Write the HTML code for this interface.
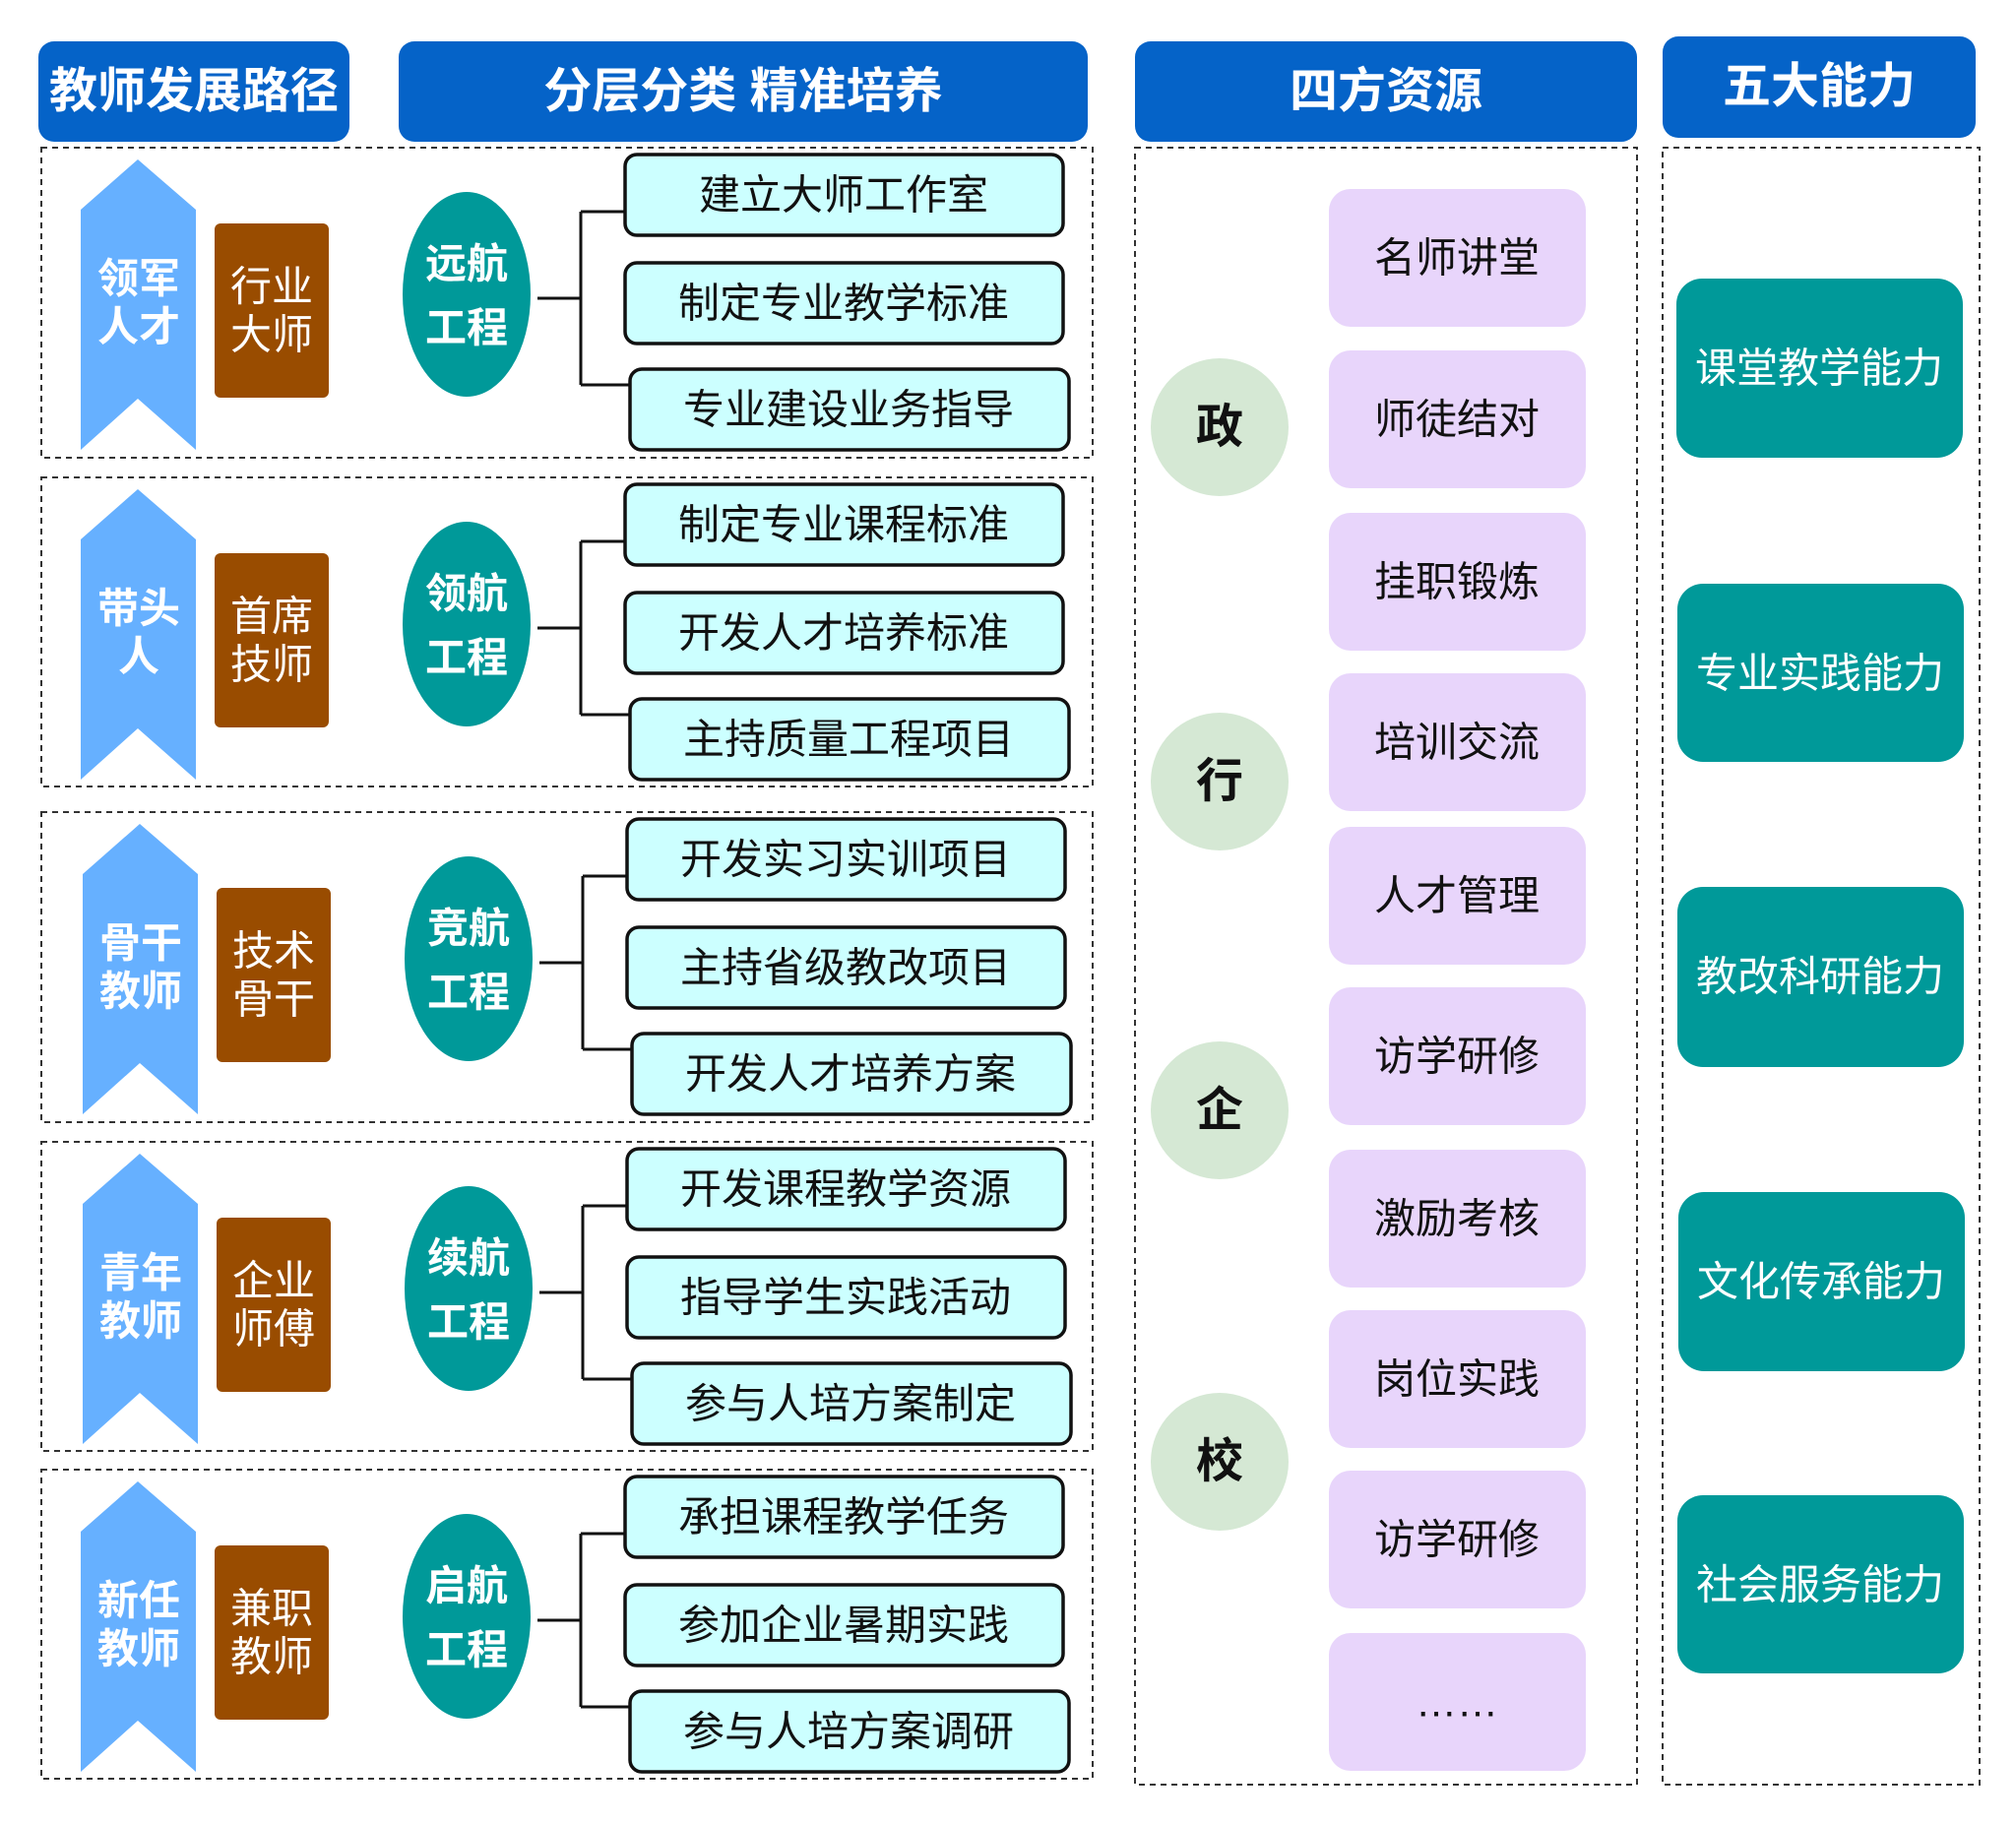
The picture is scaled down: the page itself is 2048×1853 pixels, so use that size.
<!DOCTYPE html>
<html><head><meta charset="utf-8"><style>
html,body{margin:0;padding:0;background:#fff;}
svg text{font-family:"Liberation Sans","Noto Sans CJK SC",sans-serif;}
</style></head><body>
<svg width="2048" height="1848" viewBox="0 0 2048 1848" xmlns="http://www.w3.org/2000/svg">
<defs>
<g id="row">
</g>
</defs>
<!-- headers -->
<rect x="39" y="42" width="316" height="102" rx="16" fill="#0563c8"/>
<text x="197" y="93" text-anchor="middle" dominant-baseline="central" font-size="49" font-weight="bold" fill="#fff">教师发展路径</text>
<rect x="405" y="42" width="700" height="102" rx="16" fill="#0563c8"/>
<text x="755" y="93" text-anchor="middle" dominant-baseline="central" font-size="49" font-weight="bold" fill="#fff">分层分类 精准培养</text>
<rect x="1153" y="42" width="510" height="102" rx="16" fill="#0563c8"/>
<text x="1408" y="93" text-anchor="middle" dominant-baseline="central" font-size="49" font-weight="bold" fill="#fff">四方资源</text>
<rect x="1689" y="37" width="318" height="103" rx="16" fill="#0563c8"/>
<text x="1848" y="88" text-anchor="middle" dominant-baseline="central" font-size="49" font-weight="bold" fill="#fff">五大能力</text>

<g fill="none" stroke="#333" stroke-width="2" stroke-dasharray="6,5">
<rect x="42" y="150" width="1068" height="315"/>
<rect x="42" y="485" width="1068" height="314"/>
<rect x="42" y="825" width="1068" height="315"/>
<rect x="42" y="1160" width="1068" height="314"/>
<rect x="42" y="1493" width="1068" height="314"/>
<rect x="1153" y="150" width="510" height="1663"/>
<rect x="1689" y="150" width="322" height="1663"/>
</g>

<!-- rows -->
<g id="rows"></g>

<!-- purple resource boxes -->
<g fill="#e8d5fb">
<rect x="1350" y="192" width="261" height="140" rx="22"/>
<rect x="1350" y="356" width="261" height="140" rx="22"/>
<rect x="1350" y="521" width="261" height="140" rx="22"/>
<rect x="1350" y="684" width="261" height="140" rx="22"/>
<rect x="1350" y="840" width="261" height="140" rx="22"/>
<rect x="1350" y="1003" width="261" height="140" rx="22"/>
<rect x="1350" y="1168" width="261" height="140" rx="22"/>
<rect x="1350" y="1331" width="261" height="140" rx="22"/>
<rect x="1350" y="1494" width="261" height="140" rx="22"/>
<rect x="1350" y="1659" width="261" height="140" rx="22"/>
</g>
<g font-size="42" fill="#111" text-anchor="middle" dominant-baseline="central">
<text x="1480" y="262">名师讲堂</text>
<text x="1480" y="426">师徒结对</text>
<text x="1480" y="591">挂职锻炼</text>
<text x="1480" y="754">培训交流</text>
<text x="1480" y="910">人才管理</text>
<text x="1480" y="1073">访学研修</text>
<text x="1480" y="1238">激励考核</text>
<text x="1480" y="1401">岗位实践</text>
<text x="1480" y="1564">访学研修</text>
<text x="1480" y="1729">……</text>
</g>

<!-- circles -->
<g fill="#d5e8d4">
<circle cx="1239" cy="434" r="70"/>
<circle cx="1239" cy="794" r="70"/>
<circle cx="1239" cy="1128" r="70"/>
<circle cx="1239" cy="1485" r="70"/>
</g>
<g font-size="48" font-weight="bold" fill="#111" text-anchor="middle" dominant-baseline="central">
<text x="1239" y="434">政</text>
<text x="1239" y="794">行</text>
<text x="1239" y="1128">企</text>
<text x="1239" y="1485">校</text>
</g>

<!-- teal abilities -->
<g fill="#009999">
<rect x="1703" y="283" width="291" height="182" rx="26"/>
<rect x="1704" y="593" width="291" height="181" rx="26"/>
<rect x="1704" y="901" width="291" height="183" rx="26"/>
<rect x="1705" y="1211" width="291" height="182" rx="26"/>
<rect x="1704" y="1519" width="291" height="181" rx="26"/>
</g>
<g font-size="42" fill="#fff" text-anchor="middle" dominant-baseline="central">
<text x="1848" y="374">课堂教学能力</text>
<text x="1849" y="684">专业实践能力</text>
<text x="1849" y="992">教改科研能力</text>
<text x="1850" y="1302">文化传承能力</text>
<text x="1849" y="1610">社会服务能力</text>
</g>

<!-- ROW 1 t=150 -->
<g transform="translate(0,150)">
<polygon points="140,12 199,63 199,307 140,255 82,307 82,63" fill="#66b0ff"/>
<text x="141" y="133" text-anchor="middle" dominant-baseline="central" font-size="42" font-weight="bold" fill="#fff">领军</text>
<text x="141" y="182" text-anchor="middle" dominant-baseline="central" font-size="42" font-weight="bold" fill="#fff">人才</text>
<rect x="218" y="77" width="116" height="177" rx="6" fill="#994c00"/>
<text x="276" y="141" text-anchor="middle" dominant-baseline="central" font-size="42" fill="#fff">行业</text>
<text x="276" y="190" text-anchor="middle" dominant-baseline="central" font-size="42" fill="#fff">大师</text>
<ellipse cx="474" cy="149" rx="65" ry="104" fill="#009999"/>
<text x="474" y="118" text-anchor="middle" dominant-baseline="central" font-size="42" font-weight="bold" fill="#fff">远航</text>
<text x="474" y="183" text-anchor="middle" dominant-baseline="central" font-size="42" font-weight="bold" fill="#fff">工程</text>
<path d="M546,153 H590 M590,65 V241 M590,65 H636 M590,241 H640" stroke="#111" stroke-width="3" fill="none"/>
<g fill="#ccffff" stroke="#111" stroke-width="3.5">
<rect x="635" y="7" width="445" height="82" rx="12"/>
<rect x="635" y="117" width="445" height="82" rx="12"/>
<rect x="640" y="225" width="446" height="82" rx="12"/>
</g>
<g font-size="42" fill="#111" text-anchor="middle" dominant-baseline="central">
<text x="857" y="48">建立大师工作室</text>
<text x="857" y="158">制定专业教学标准</text>
<text x="862" y="266">专业建设业务指导</text>
</g>
</g>

<!-- ROW 2 t=485 -->
<g transform="translate(0,485)">
<polygon points="140,12 199,63 199,307 140,255 82,307 82,63" fill="#66b0ff"/>
<text x="141" y="133" text-anchor="middle" dominant-baseline="central" font-size="42" font-weight="bold" fill="#fff">带头</text>
<text x="141" y="182" text-anchor="middle" dominant-baseline="central" font-size="42" font-weight="bold" fill="#fff">人</text>
<rect x="218" y="77" width="116" height="177" rx="6" fill="#994c00"/>
<text x="276" y="141" text-anchor="middle" dominant-baseline="central" font-size="42" fill="#fff">首席</text>
<text x="276" y="190" text-anchor="middle" dominant-baseline="central" font-size="42" fill="#fff">技师</text>
<ellipse cx="474" cy="149" rx="65" ry="104" fill="#009999"/>
<text x="474" y="118" text-anchor="middle" dominant-baseline="central" font-size="42" font-weight="bold" fill="#fff">领航</text>
<text x="474" y="183" text-anchor="middle" dominant-baseline="central" font-size="42" font-weight="bold" fill="#fff">工程</text>
<path d="M546,153 H590 M590,65 V241 M590,65 H636 M590,241 H640" stroke="#111" stroke-width="3" fill="none"/>
<g fill="#ccffff" stroke="#111" stroke-width="3.5">
<rect x="635" y="7" width="445" height="82" rx="12"/>
<rect x="635" y="117" width="445" height="82" rx="12"/>
<rect x="640" y="225" width="446" height="82" rx="12"/>
</g>
<g font-size="42" fill="#111" text-anchor="middle" dominant-baseline="central">
<text x="857" y="48">制定专业课程标准</text>
<text x="857" y="158">开发人才培养标准</text>
<text x="862" y="266">主持质量工程项目</text>
</g>
</g>

<!-- ROW 3 t=825 -->
<g transform="translate(2,825)">
<polygon points="140,12 199,63 199,307 140,255 82,307 82,63" fill="#66b0ff"/>
<text x="141" y="133" text-anchor="middle" dominant-baseline="central" font-size="42" font-weight="bold" fill="#fff">骨干</text>
<text x="141" y="182" text-anchor="middle" dominant-baseline="central" font-size="42" font-weight="bold" fill="#fff">教师</text>
<rect x="218" y="77" width="116" height="177" rx="6" fill="#994c00"/>
<text x="276" y="141" text-anchor="middle" dominant-baseline="central" font-size="42" fill="#fff">技术</text>
<text x="276" y="190" text-anchor="middle" dominant-baseline="central" font-size="42" fill="#fff">骨干</text>
<ellipse cx="474" cy="149" rx="65" ry="104" fill="#009999"/>
<text x="474" y="118" text-anchor="middle" dominant-baseline="central" font-size="42" font-weight="bold" fill="#fff">竞航</text>
<text x="474" y="183" text-anchor="middle" dominant-baseline="central" font-size="42" font-weight="bold" fill="#fff">工程</text>
<path d="M546,153 H590 M590,65 V241 M590,65 H636 M590,241 H640" stroke="#111" stroke-width="3" fill="none"/>
<g fill="#ccffff" stroke="#111" stroke-width="3.5">
<rect x="635" y="7" width="445" height="82" rx="12"/>
<rect x="635" y="117" width="445" height="82" rx="12"/>
<rect x="640" y="225" width="446" height="82" rx="12"/>
</g>
<g font-size="42" fill="#111" text-anchor="middle" dominant-baseline="central">
<text x="857" y="48">开发实习实训项目</text>
<text x="857" y="158">主持省级教改项目</text>
<text x="862" y="266">开发人才培养方案</text>
</g>
</g>

<!-- ROW 4 t=1160 -->
<g transform="translate(2,1160)">
<polygon points="140,12 199,63 199,307 140,255 82,307 82,63" fill="#66b0ff"/>
<text x="141" y="133" text-anchor="middle" dominant-baseline="central" font-size="42" font-weight="bold" fill="#fff">青年</text>
<text x="141" y="182" text-anchor="middle" dominant-baseline="central" font-size="42" font-weight="bold" fill="#fff">教师</text>
<rect x="218" y="77" width="116" height="177" rx="6" fill="#994c00"/>
<text x="276" y="141" text-anchor="middle" dominant-baseline="central" font-size="42" fill="#fff">企业</text>
<text x="276" y="190" text-anchor="middle" dominant-baseline="central" font-size="42" fill="#fff">师傅</text>
<ellipse cx="474" cy="149" rx="65" ry="104" fill="#009999"/>
<text x="474" y="118" text-anchor="middle" dominant-baseline="central" font-size="42" font-weight="bold" fill="#fff">续航</text>
<text x="474" y="183" text-anchor="middle" dominant-baseline="central" font-size="42" font-weight="bold" fill="#fff">工程</text>
<path d="M546,153 H590 M590,65 V241 M590,65 H636 M590,241 H640" stroke="#111" stroke-width="3" fill="none"/>
<g fill="#ccffff" stroke="#111" stroke-width="3.5">
<rect x="635" y="7" width="445" height="82" rx="12"/>
<rect x="635" y="117" width="445" height="82" rx="12"/>
<rect x="640" y="225" width="446" height="82" rx="12"/>
</g>
<g font-size="42" fill="#111" text-anchor="middle" dominant-baseline="central">
<text x="857" y="48">开发课程教学资源</text>
<text x="857" y="158">指导学生实践活动</text>
<text x="862" y="266">参与人培方案制定</text>
</g>
</g>

<!-- ROW 5 t=1493 -->
<g transform="translate(0,1493)">
<polygon points="140,12 199,63 199,307 140,255 82,307 82,63" fill="#66b0ff"/>
<text x="141" y="133" text-anchor="middle" dominant-baseline="central" font-size="42" font-weight="bold" fill="#fff">新任</text>
<text x="141" y="182" text-anchor="middle" dominant-baseline="central" font-size="42" font-weight="bold" fill="#fff">教师</text>
<rect x="218" y="77" width="116" height="177" rx="6" fill="#994c00"/>
<text x="276" y="141" text-anchor="middle" dominant-baseline="central" font-size="42" fill="#fff">兼职</text>
<text x="276" y="190" text-anchor="middle" dominant-baseline="central" font-size="42" fill="#fff">教师</text>
<ellipse cx="474" cy="149" rx="65" ry="104" fill="#009999"/>
<text x="474" y="118" text-anchor="middle" dominant-baseline="central" font-size="42" font-weight="bold" fill="#fff">启航</text>
<text x="474" y="183" text-anchor="middle" dominant-baseline="central" font-size="42" font-weight="bold" fill="#fff">工程</text>
<path d="M546,153 H590 M590,65 V241 M590,65 H636 M590,241 H640" stroke="#111" stroke-width="3" fill="none"/>
<g fill="#ccffff" stroke="#111" stroke-width="3.5">
<rect x="635" y="7" width="445" height="82" rx="12"/>
<rect x="635" y="117" width="445" height="82" rx="12"/>
<rect x="640" y="225" width="446" height="82" rx="12"/>
</g>
<g font-size="42" fill="#111" text-anchor="middle" dominant-baseline="central">
<text x="857" y="48">承担课程教学任务</text>
<text x="857" y="158">参加企业暑期实践</text>
<text x="862" y="266">参与人培方案调研</text>
</g>
</g>
</svg>
</body></html>
